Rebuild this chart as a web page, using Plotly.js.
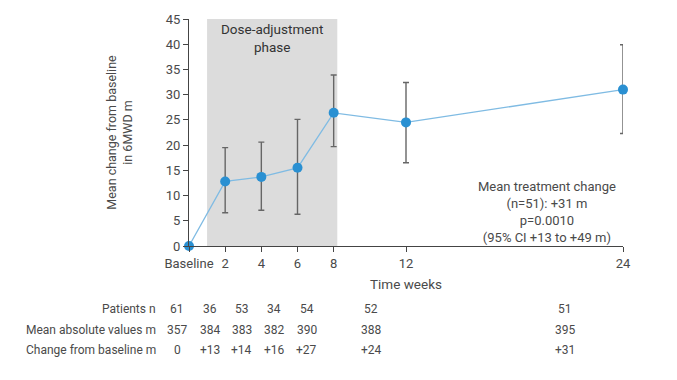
<!DOCTYPE html>
<html>
<head>
<meta charset="utf-8">
<script src="https://cdn.plot.ly/plotly-3.0.1.min.js"></script>
<style>html,body{margin:0;padding:0;background:#fff;}#chart{width:677px;height:380px;}</style>
</head>
<body>
<div id="chart"></div>
<script>
// ---- data ----
const weeks = [0, 2, 4, 6, 8, 12, 24];
const tickLabels = ['Baseline', '2', '4', '6', '8', '12', '24'];
const meanChange = [0, 12.8, 13.7, 15.5, 26.4, 24.5, 31.0];
const ciUpper = [0, 19.5, 20.6, 25.1, 33.9, 32.4, 39.9];
const ciLower = [0, 6.6, 7.1, 6.3, 19.7, 16.5, 22.3];
const patientsN = ['61', '36', '53', '34', '54', '52', '51'];
const meanAbsolute = ['357', '384', '383', '382', '390', '388', '395'];
const changeFromBaseline = ['0', '+13', '+14', '+16', '+27', '+24', '+31'];
const rowLabels = ['Patients n', 'Mean absolute values m', 'Change from baseline m'];
const phaseStart = 1, phaseEnd = 8.2;

// ---- layout helpers ----
const FONT = 'Roboto, "Liberation Sans", Arial, sans-serif';
const TXT = '#4a4a4a';
const errPlus = meanChange.map((m, i) => ciUpper[i] - m);
const errMinus = meanChange.map((m, i) => m - ciLower[i]);
const hasErr = weeks.map((w, i) => i > 0);

const traces = [
  {
    x: weeks, y: meanChange, type: 'scatter', mode: 'lines',
    line: {color: '#7fbbe3', width: 1.3},
    hoverinfo: 'skip', showlegend: false, cliponaxis: false
  },
  {
    x: weeks, y: meanChange, type: 'scatter', mode: 'markers',
    marker: {color: '#2a90d2', size: 10},
    error_y: {type: 'data', symmetric: false,
      array: errPlus.map((v, i) => hasErr[i] ? v : null),
      arrayminus: errMinus.map((v, i) => hasErr[i] ? v : null),
      color: '#666666', thickness: 1.4, width: 3},
    showlegend: false, cliponaxis: false
  }
];

const rowY = [-0.278, -0.370, -0.458];
const tableShift = -0.027, tableScale = 0.894;
const tableX = w => tableShift + tableScale * (w / 24);
const rows = [patientsN, meanAbsolute, changeFromBaseline];
const annotations = [];
rows.forEach((row, r) => {
  annotations.push({xref: 'paper', yref: 'paper', x: -0.072, y: rowY[r], text: rowLabels[r],
    showarrow: false, xanchor: 'right', yanchor: 'middle', font: {family: FONT, size: 12, color: TXT}});
  row.forEach((v, i) => {
    annotations.push({xref: 'paper', yref: 'paper', x: tableX(weeks[i]), y: rowY[r], text: v,
      showarrow: false, xanchor: 'center', yanchor: 'middle', font: {family: FONT, size: 12, color: TXT}});
  });
});
annotations.push({xref: 'x', yref: 'y', x: (phaseStart + phaseEnd) / 2, y: 45,
  text: 'Dose-adjustment<br>phase', showarrow: false, yanchor: 'top',
  font: {family: FONT, size: 13.5, color: '#333'}});
annotations.push({xref: 'x', yref: 'y', x: 19.8, y: 13.6,
  text: 'Mean treatment change<br>(n=51): +31 m<br>p=0.0010<br>(95% CI +13 to +49 m)',
  showarrow: false, yanchor: 'top', align: 'center',
  font: {family: FONT, size: 13, color: TXT}});

const layout = {
  width: 677, height: 380,
  margin: {l: 189, r: 54, t: 19, b: 134},
  paper_bgcolor: '#fff', plot_bgcolor: '#fff',
  font: {family: FONT, color: TXT},
  xaxis: {
    range: [0, 24], tickvals: weeks, ticktext: tickLabels,
    showgrid: false, zeroline: false, showline: true, linecolor: '#444', linewidth: 1,
    ticks: 'outside', ticklen: 5, tickcolor: '#444',
    tickfont: {family: FONT, size: 13, color: TXT},
    title: {text: 'Time weeks', standoff: 9, font: {family: FONT, size: 13.5, color: TXT}},
    automargin: false, fixedrange: true
  },
  yaxis: {
    range: [0, 45], tickvals: [0, 5, 10, 15, 20, 25, 30, 35, 40, 45],
    showgrid: false, zeroline: false, showline: true, linecolor: '#444', linewidth: 1,
    ticks: 'outside', ticklen: 5, tickcolor: '#444',
    tickfont: {family: FONT, size: 13, color: TXT},
    title: {text: 'Mean change from baseline<br>in 6MWD m', standoff: 30, font: {family: FONT, size: 12.5, color: TXT}},
    automargin: false, fixedrange: true
  },
  shapes: [{type: 'rect', xref: 'x', yref: 'y', x0: phaseStart, x1: phaseEnd, y0: 0, y1: 45,
    fillcolor: '#dcdcdc', line: {width: 0}, layer: 'below'}],
  annotations: annotations
};

Plotly.newPlot('chart', traces, layout, {displayModeBar: false, staticPlot: true});
</script>
</body>
</html>
